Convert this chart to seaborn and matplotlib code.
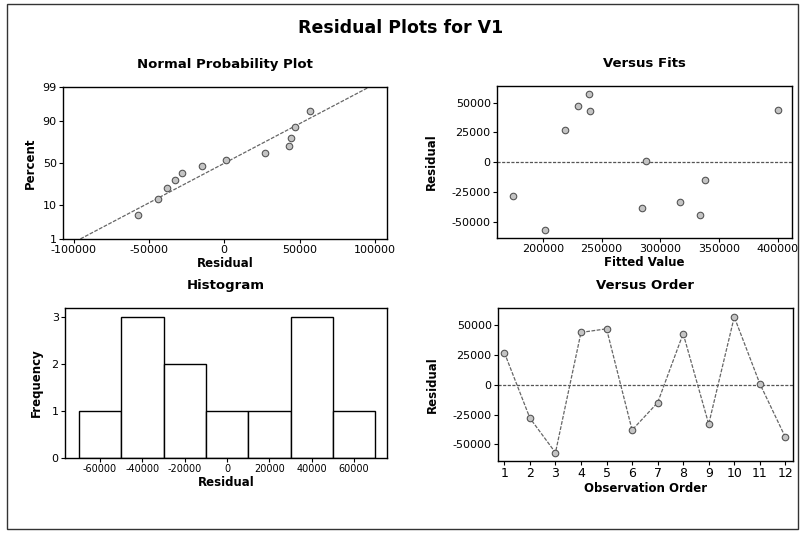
import numpy as np
import pandas as pd
import matplotlib
matplotlib.use("Agg")
import matplotlib.pyplot as plt
import seaborn as sns
from matplotlib.patches import Rectangle
from statistics import NormalDist

# ---- data ----
order = [1, 2, 3, 4, 5, 6, 7, 8, 9, 10, 11, 12]
residuals = [27000, -28000, -57000, 44000, 47000, -38000, -15000, 43000, -33000, 57000, 1000, -44000]
fitted = [219000, 175000, 202000, 400000, 230000, 284000, 338000, 240000, 317000, 239000, 288000, 334000]
pct_ticks = [1, 10, 50, 90, 99]
prob_xticks = [-100000, -50000, 0, 50000, 100000]
hist_edges = [-70000, -50000, -30000, -10000, 10000, 30000, 50000, 70000]
hist_xticks = [-60000, -40000, -20000, 0, 20000, 40000, 60000]
resid_yticks = [-50000, -25000, 0, 25000, 50000]
fit_xticks = [200000, 250000, 300000, 350000, 400000]

sns.set_style("white")
plt.rcParams["font.family"] = ["DejaVu Sans"]
plt.rcParams["axes.unicode_minus"] = False
for k in ["text.color", "axes.labelcolor", "xtick.color", "ytick.color"]:
    plt.rcParams[k] = "black"

W, H = 801, 533
fig = plt.figure(figsize=(W / 100, H / 100), dpi=100)

def ax_px(l, t, r, b):
    return fig.add_axes([l / W, 1 - b / H, (r - l) / W, (b - t) / H])

ax1 = ax_px(63, 87, 387, 239)
ax2 = ax_px(497, 86, 792, 238)
ax3 = ax_px(65, 308, 387, 458)
ax4 = ax_px(498, 308, 793, 461)

mk = dict(marker="o", s=22, color="#c4c4c4", edgecolor="#555555", linewidth=0.8, zorder=3)
tfs = 8
lfs = 8.5
title_fs = 9.5
tpad = 14

def style(ax):
    for s in ax.spines.values():
        s.set_color("black")
        s.set_linewidth(1.0)
    ax.tick_params(axis="both", direction="out", length=3, width=0.8, labelsize=tfs,
                   bottom=True, left=True, pad=1.5, colors="black")

# ---- Normal probability plot ----
r = np.array(residuals, dtype=float)
rs = np.sort(r)
n = len(rs)
nd = NormalDist()
ranks = np.arange(1, n + 1)
pct = (ranks - 0.3) / (n + 0.4)
z = np.array([nd.inv_cdf(p) for p in pct])
dfp = pd.DataFrame({"Residual": rs, "z": z})
mu, sd = r.mean(), r.std(ddof=1)
zl = np.array([nd.inv_cdf(0.0101), nd.inv_cdf(0.9899)])
ax1.plot(mu + sd * zl, zl, color="#666666", lw=0.9, ls=(0, (3, 1.2)), zorder=2)
sns.scatterplot(data=dfp, x="Residual", y="z", ax=ax1, **mk)
ax1.set_xlim(-107000, 108000)
ax1.set_ylim(nd.inv_cdf(0.01), nd.inv_cdf(0.99))
ax1.set_yticks([nd.inv_cdf(p / 100) for p in pct_ticks])
ax1.set_yticklabels([str(p) for p in pct_ticks])
ax1.set_xticks(prob_xticks)
ax1.set_xticklabels([str(v) for v in prob_xticks])
ax1.set_xlabel("Residual", fontsize=lfs, fontweight="bold", labelpad=1)
ax1.set_ylabel("Percent", fontsize=lfs, fontweight="bold", labelpad=4)
ax1.set_title("Normal Probability Plot", fontsize=title_fs, fontweight="bold", pad=tpad)
style(ax1)

# ---- Versus fits ----
dff = pd.DataFrame({"Fitted Value": fitted, "Residual": residuals})
ax2.axhline(0, color="#555555", lw=0.9, ls=(0, (2.5, 1.2)), zorder=1)
sns.scatterplot(data=dff, x="Fitted Value", y="Residual", ax=ax2, **mk)
ax2.set_xlim(161000, 412000)
ax2.set_ylim(-63500, 64000)
ax2.set_xticks(fit_xticks)
ax2.set_xticklabels([str(v) for v in fit_xticks])
ax2.set_yticks(resid_yticks)
ax2.set_yticklabels([str(v) for v in resid_yticks])
ax2.set_xlabel("Fitted Value", fontsize=lfs, fontweight="bold", labelpad=1)
ax2.set_ylabel("Residual", fontsize=lfs, fontweight="bold", labelpad=10)
ax2.set_title("Versus Fits", fontsize=title_fs, fontweight="bold", pad=tpad)
style(ax2)

# ---- Histogram ----
dfh = pd.DataFrame({"Residual": residuals})
sns.histplot(data=dfh, x="Residual", bins=hist_edges, ax=ax3, color="white",
             edgecolor="black", linewidth=1.0, alpha=1)
ax3.set_xlim(-76500, 75500)
ax3.set_ylim(0, 3.2)
ax3.set_yticks([0, 1, 2, 3])
ax3.set_xticks(hist_xticks)
ax3.set_xticklabels([str(v) for v in hist_xticks])
ax3.set_xlabel("Residual", fontsize=lfs, fontweight="bold", labelpad=1)
ax3.set_ylabel("Frequency", fontsize=lfs, fontweight="bold", labelpad=6)
ax3.set_title("Histogram", fontsize=title_fs, fontweight="bold", pad=tpad)
style(ax3)
ax3.tick_params(axis="x", labelsize=7)

# ---- Versus order ----
dfo = pd.DataFrame({"Observation Order": order, "Residual": residuals})
ax4.axhline(0, color="#555555", lw=0.9, ls=(0, (2.5, 1.2)), zorder=1)
sns.lineplot(data=dfo, x="Observation Order", y="Residual", ax=ax4, color="#666666",
             lw=0.9, ls=(0, (3, 1.2)), zorder=2)
sns.scatterplot(data=dfo, x="Observation Order", y="Residual", ax=ax4, **mk)
ax4.set_xlim(0.75, 12.3)
ax4.set_ylim(-64000, 64500)
ax4.set_xticks(order)
ax4.set_xticklabels([str(v) for v in order])
ax4.set_yticks(resid_yticks)
ax4.set_yticklabels([str(v) for v in resid_yticks])
ax4.set_xlabel("Observation Order", fontsize=lfs, fontweight="bold", labelpad=1)
ax4.set_ylabel("Residual", fontsize=lfs, fontweight="bold", labelpad=10)
ax4.set_title("Versus Order", fontsize=title_fs, fontweight="bold", pad=tpad)
style(ax4)
ax4.tick_params(axis="x", labelsize=9)

fig.text(0.5, 1 - 28 / H, "Residual Plots for V1", ha="center", va="center",
         fontsize=12.5, fontweight="bold", color="black")
fig.patches.append(Rectangle((7 / W, 1 - 529 / H), 791 / W, 525 / H, transform=fig.transFigure,
                             fill=False, edgecolor="#333333", linewidth=1.0))

fig.savefig("out.png", dpi=100)
